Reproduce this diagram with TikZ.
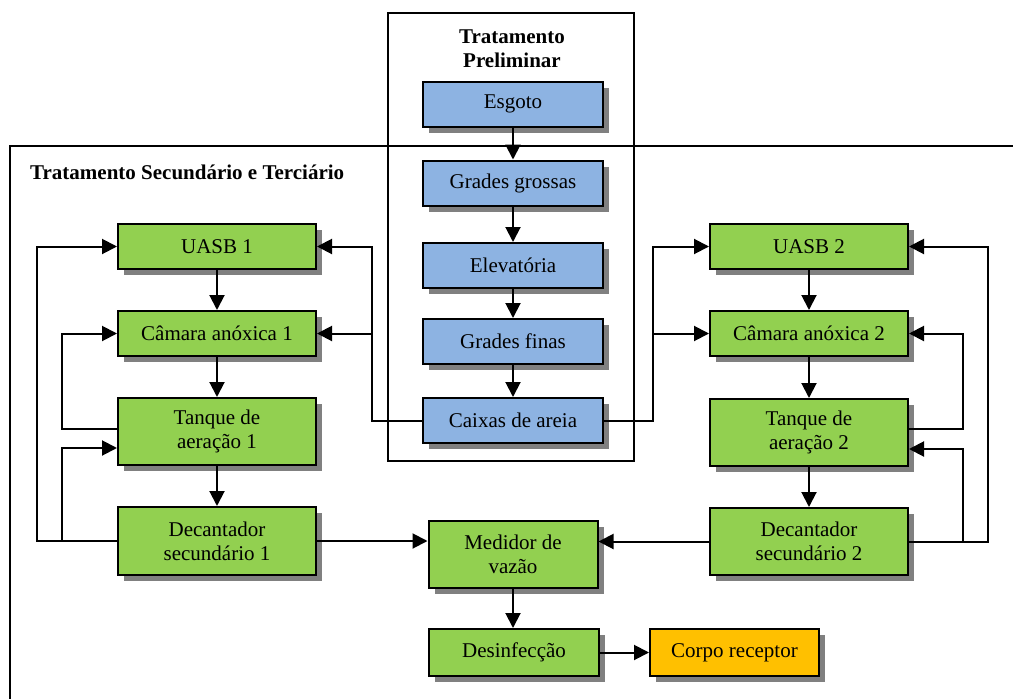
\documentclass[tikz,border=0pt]{standalone}
\usepackage{fontspec}
\setmainfont{Liberation Serif}
\usetikzlibrary{arrows.meta,shadows}
\definecolor{boxgreen}{HTML}{92D050}
\definecolor{boxblue}{HTML}{8DB3E2}
\definecolor{boxorange}{HTML}{FFC000}
\definecolor{shadowgray}{HTML}{808080}
\tikzset{
 blk/.style={draw=black, line width=2pt, align=center, inner sep=2pt,
   font=\fontsize{21}{24}\selectfont,
   drop shadow={shadow xshift=6pt, shadow yshift=-6pt, fill=shadowgray, opacity=1}},
 bluebox/.style={blk, fill=boxblue, minimum width=180pt, minimum height=45pt},
 greenbox/.style={blk, fill=boxgreen, minimum width=198pt},
 arr/.style={line width=2pt, -{Triangle[length=15pt,width=15pt]}},
 frame/.style={line width=1.6pt},
 title/.style={font=\bfseries\fontsize{21}{24}\selectfont, align=center, inner sep=0pt},
}
\begin{document}
\begin{tikzpicture}[x=1pt,y=-1pt]
\useasboundingbox (0,0) rectangle (1013,699);
% frames
\draw[frame] (388,13) rectangle (634,461);
\coordinate (o1) at (1013,146);
\coordinate (o2) at (10,146);
\coordinate (o3) at (10,699);
\draw[frame] (o1) -- (o2) -- (o3);
\node[title] (tp) at (512,49) {Tratamento\\Preliminar};
\node[title, anchor=west] (ts) at (30,172) {Tratamento Secundário e Terciário};
% blue column
\node[bluebox] (esg) at (513,104) {Esgoto};
\node[bluebox] (gg) at (513,183) {Grades grossas};
\node[bluebox] (elev) at (513,265.5) {Elevatória};
\node[bluebox] (gf) at (513,341.5) {Grades finas};
\node[bluebox] (ca) at (513,420.5) {Caixas de areia};
% left column
\node[greenbox, minimum height=45pt] (uasb1) at (217,246.5) {UASB 1};
\node[greenbox, minimum height=45pt] (cam1) at (217,333.5) {Câmara anóxica 1};
\node[greenbox, minimum height=67pt] (tq1) at (217,431.5) {Tanque de\\aeração 1};
\node[greenbox, minimum height=68pt] (dec1) at (217,541) {Decantador\\secundário 1};
% right column
\node[greenbox, minimum height=45pt] (uasb2) at (809,246.5) {UASB 2};
\node[greenbox, minimum height=45pt] (cam2) at (809,333.5) {Câmara anóxica 2};
\node[greenbox, minimum height=67pt] (tq2) at (809,432.5) {Tanque de\\aeração 2};
\node[greenbox, minimum height=67pt] (dec2) at (809,541.5) {Decantador\\secundário 2};
% bottom
\node[blk, fill=boxgreen, minimum width=169pt, minimum height=67pt] (med) at (513,554.5) {Medidor de\\vazão};
\node[blk, fill=boxgreen, minimum width=170pt, minimum height=47pt] (des) at (514,652.5) {Desinfecção};
\node[blk, fill=boxorange, minimum width=169pt, minimum height=47pt] (corpo) at (734.5,652.5) {Corpo receptor};
% helper coordinates
\coordinate (xL1) at (37,0);
\coordinate (xL2) at (62,0);
\coordinate (xA) at (372,0);
\coordinate (xB) at (653,0);
\coordinate (xR1) at (963,0);
\coordinate (xR2) at (988,0);
\coordinate (tq1in) at ([yshift=-16.5pt]tq1.west);
\coordinate (tq1out) at ([yshift=2.5pt]tq1.west);
\coordinate (tq2in) at ([yshift=-16.5pt]tq2.east);
\coordinate (tq2out) at ([yshift=3.5pt]tq2.east);
% vertical flow
\draw[arr] (esg) -- (gg);
\draw[arr] (gg) -- (elev);
\draw[arr] (elev) -- (gf);
\draw[arr] (gf) -- (ca);
\draw[arr] (uasb1) -- (cam1);
\draw[arr] (cam1) -- (tq1);
\draw[arr] (tq1) -- (dec1);
\draw[arr] (uasb2) -- (cam2);
\draw[arr] (cam2) -- (tq2);
\draw[arr] (tq2) -- (dec2);
\draw[arr] (med) -- (med |- des.north);
\draw[arr] (des) -- (corpo);
\draw[arr] (dec1.east) -- (dec1.east -| med.west);
\draw[arr] (dec2.west) -- (dec2.west -| med.east);
% feed from caixas de areia
\draw[arr] (ca.west) -- (ca.west -| xA) -- (uasb1.east -| xA) -- (uasb1.east);
\draw[arr] (cam1.east -| xA) -- (cam1.east);
\draw[arr] (ca.east) -- (ca.east -| xB) -- (uasb2.west -| xB) -- (uasb2.west);
\draw[arr] (cam2.west -| xB) -- (cam2.west);
% left recirculation
\draw[arr] (dec1.west) -- (dec1.west -| xL1) -- (uasb1.west -| xL1) -- (uasb1.west);
\draw[arr] (dec1.west -| xL2) -- (tq1in -| xL2) -- (tq1in);
\draw[arr] (tq1out) -- (tq1out -| xL2) -- (cam1.west -| xL2) -- (cam1.west);
% right recirculation
\draw[arr] (dec2.east) -- (dec2.east -| xR2) -- (uasb2.east -| xR2) -- (uasb2.east);
\draw[arr] (dec2.east -| xR1) -- (tq2in -| xR1) -- (tq2in);
\draw[arr] (tq2out) -- (tq2out -| xR1) -- (cam2.east -| xR1) -- (cam2.east);
\end{tikzpicture}
\end{document}
